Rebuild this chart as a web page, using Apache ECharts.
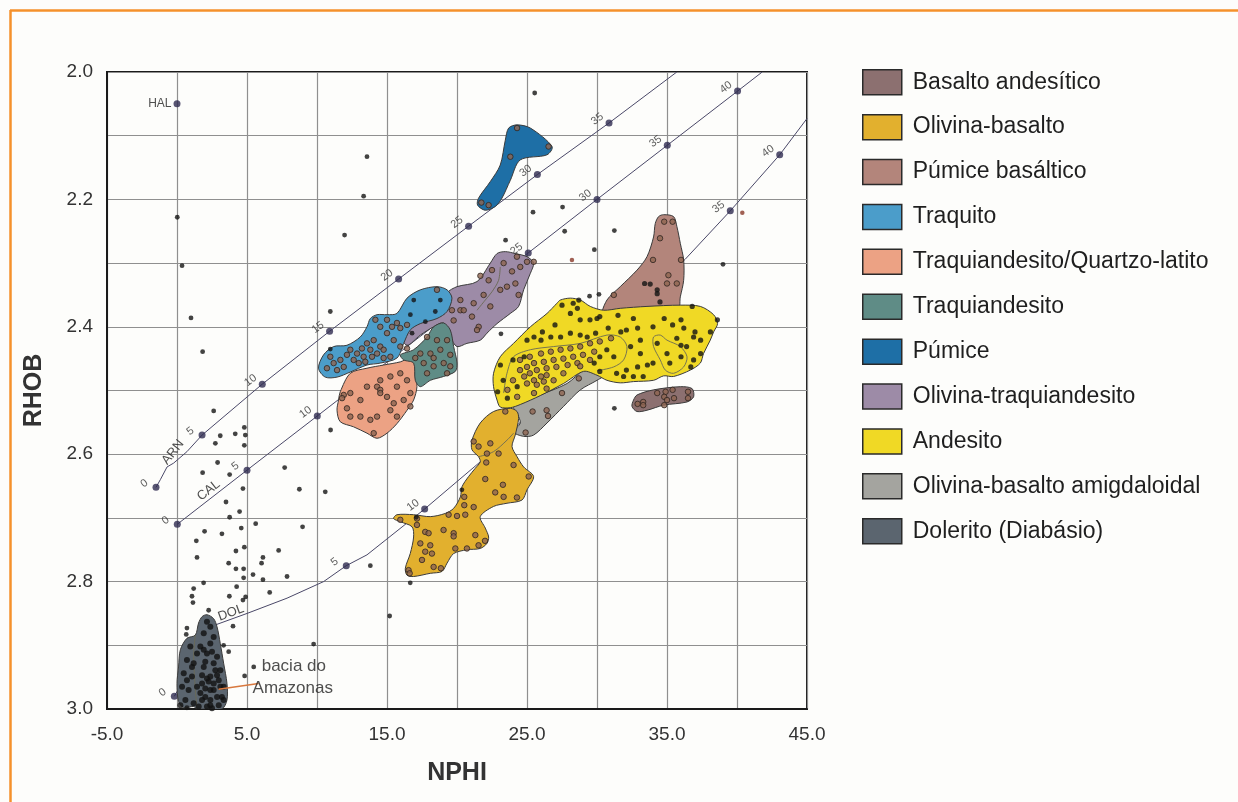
<!DOCTYPE html>
<html><head><meta charset="utf-8">
<script src="https://cdn.jsdelivr.net/npm/echarts@6/dist/echarts.min.js"></script>
<style>html,body{margin:0;padding:0;background:#fdfdfb}#c{width:1238px;height:802px}</style>
</head><body><div id="c"></div>
<script>
// ---------------- DATA (NPHI, RHOB) ----------------
const xLabelValues = [-5, 5, 15, 25, 35, 45];
const yLabelValues = [2.0, 2.2, 2.4, 2.6, 2.8, 3.0];

const legendNames = ['Basalto andesítico','Olivina-basalto','Púmice basáltico','Traquito',
  'Traquiandesito/Quartzo-latito','Traquiandesito','Púmice','Olivina-traquiandesito',
  'Andesito','Olivina-basalto amigdaloidal','Dolerito (Diabásio)'];

const basaltoAndesitico = [[32.61,2.515],[32.86,2.507],[34.04,2.499],[35.95,2.494],[36.79,2.497],[36.9,2.510],[36.43,2.518],[34.76,2.523],[33.57,2.531],[32.86,2.533],[32.5,2.525]];
const olivinaBasalto = [[21.07,2.578],[21.07,2.593],[21.54,2.604],[21.66,2.612],[21.31,2.622],[20.83,2.635],[20.36,2.651],[20.24,2.667],[19.76,2.685],[19.16,2.693],[18.09,2.698],[16.9,2.695],[15.71,2.695],[15.47,2.701],[15.95,2.706],[16.79,2.714],[16.9,2.730],[16.66,2.756],[16.31,2.779],[16.43,2.790],[16.9,2.792],[18.09,2.787],[18.93,2.784],[19.29,2.771],[19.76,2.756],[20.71,2.750],[21.66,2.748],[22.14,2.740],[22.26,2.730],[22.02,2.716],[21.66,2.698],[22.61,2.682],[23.57,2.677],[24.64,2.672],[25.0,2.656],[25.47,2.635],[24.76,2.620],[24.29,2.604],[23.93,2.588],[24.16,2.570],[24.4,2.544],[24.29,2.533],[23.81,2.528],[22.61,2.533],[21.66,2.551]];
const pumiceBasaltico = [[34.76,2.224],[35.47,2.227],[35.71,2.243],[35.95,2.269],[36.19,2.295],[36.19,2.327],[35.95,2.353],[35.71,2.378],[30.47,2.380],[30.71,2.358],[31.66,2.337],[32.86,2.311],[33.57,2.290],[34.04,2.259],[34.16,2.238],[34.4,2.227]];
const traquito = [[10.11,2.465],[10.59,2.479],[11.43,2.479],[12.38,2.471],[13.57,2.460],[14.52,2.457],[15.71,2.449],[16.19,2.426],[16.66,2.405],[17.38,2.395],[18.57,2.387],[19.29,2.376],[19.64,2.355],[19.29,2.342],[18.57,2.337],[17.38,2.342],[16.43,2.355],[15.71,2.379],[15.0,2.381],[14.29,2.381],[13.81,2.387],[13.57,2.400],[13.09,2.416],[12.14,2.429],[11.19,2.431],[10.47,2.444]];
const traquiQuartzo = [[11.66,2.502],[12.38,2.473],[13.57,2.465],[14.76,2.460],[15.96,2.455],[16.66,2.449],[17.02,2.457],[17.02,2.473],[17.14,2.494],[16.9,2.515],[16.43,2.531],[15.71,2.552],[15.0,2.567],[14.29,2.575],[13.57,2.567],[12.61,2.557],[11.66,2.549],[11.43,2.531],[11.54,2.515]];
const traquiandesito = [[15.96,2.444],[16.9,2.436],[17.86,2.416],[18.33,2.400],[19.04,2.394],[19.52,2.405],[19.76,2.431],[20.0,2.457],[19.88,2.470],[19.04,2.478],[18.1,2.484],[17.38,2.494],[17.02,2.484],[16.9,2.457],[16.19,2.452]];
const pumice = [[24.29,2.083],[25.24,2.088],[26.79,2.117],[26.43,2.130],[24.52,2.138],[23.81,2.170],[23.21,2.198],[22.74,2.211],[22.02,2.217],[21.47,2.209],[21.54,2.198],[22.38,2.172],[23.09,2.146],[23.45,2.107],[23.69,2.088]];
const olivinaTraqui = [[15.96,2.410],[17.86,2.389],[18.81,2.376],[19.29,2.347],[20.0,2.337],[21.43,2.329],[22.38,2.300],[22.86,2.285],[23.45,2.282],[24.16,2.285],[25.0,2.290],[25.47,2.300],[25.24,2.316],[24.76,2.342],[24.4,2.368],[23.81,2.379],[22.86,2.395],[22.14,2.410],[21.66,2.421],[20.71,2.426],[20.0,2.431],[19.52,2.416],[19.04,2.394],[18.33,2.400],[17.38,2.413],[16.43,2.429]];
const andesito = [[27.38,2.358],[28.09,2.355],[28.81,2.358],[29.52,2.368],[30.47,2.374],[31.66,2.371],[33.57,2.368],[35.95,2.366],[37.38,2.368],[38.33,2.381],[38.61,2.395],[38.33,2.408],[38.09,2.421],[37.61,2.442],[37.38,2.457],[36.66,2.468],[35.47,2.478],[34.76,2.477],[34.04,2.484],[32.61,2.486],[31.66,2.488],[30.71,2.484],[30.0,2.476],[29.04,2.470],[27.61,2.489],[25.95,2.508],[24.52,2.522],[23.81,2.527],[23.09,2.526],[22.86,2.515],[22.61,2.494],[22.61,2.473],[23.09,2.447],[24.04,2.426],[25.24,2.400],[26.43,2.379],[27.14,2.363]];
const amigdaloidal = [[24.04,2.525],[25.95,2.507],[27.86,2.489],[29.04,2.468],[29.76,2.465],[30.71,2.473],[30.0,2.484],[28.81,2.499],[27.61,2.525],[26.43,2.551],[25.47,2.570],[24.76,2.572],[24.04,2.565],[24.52,2.551],[24.29,2.536]];
const dolerito = [[0.11,2.934],[0.24,2.907],[0.71,2.889],[1.31,2.884],[1.54,2.865],[1.79,2.855],[2.14,2.852],[2.61,2.858],[2.86,2.871],[3.09,2.897],[3.33,2.928],[3.57,2.960],[3.57,2.986],[3.21,3.0],[2.14,3.0],[1.43,3.0],[1.19,2.996],[0.47,2.998],[0.11,2.988],[0.0,2.960]];

// inner boundary lines
const andesitoInnerA = [[23.33,2.504],[23.57,2.473],[24.04,2.447],[25.24,2.436],[26.9,2.431],[28.81,2.426],[30.71,2.413],[31.66,2.416],[32.14,2.431],[31.9,2.452],[31.19,2.463],[30.0,2.469]];
const andesitoInnerB = [[34.04,2.416],[34.52,2.413],[35.0,2.421],[35.95,2.431],[36.43,2.447],[36.19,2.463],[35.47,2.473],[34.88,2.468],[34.52,2.452],[34.04,2.431]];
const olivinaBasaltoInner = [[21.54,2.604],[22.61,2.596],[23.57,2.578],[24.04,2.567]];
const doleritoInner = [[1.31,2.884],[1.19,2.915],[1.31,2.970],[1.43,2.998]];
const olivinaTraquiInner = [[23.09,2.306],[22.97,2.327],[22.5,2.345],[22.02,2.358],[21.43,2.374]];

// lithology reference lines
const lineARN = [[-1.5,2.652],[-1.19,2.640],[-0.71,2.620],[-0.24,2.614],[0.71,2.596],[1.79,2.570],[6.09,2.490],[10.9,2.407],[15.83,2.325],[20.83,2.242],[25.74,2.161],[30.86,2.080],[35.7,2.0]];
const lineCAL = [[0.02,2.71],[5.0,2.625],[10.02,2.54],[25.09,2.284],[30.0,2.2],[35.02,2.115],[40.04,2.03],[41.8,2.0]];
const lineDOL = [[-0.19,2.98],[2.74,2.868],[5.0,2.85],[7.86,2.826],[10.47,2.80],[12.09,2.775],[13.57,2.758],[17.69,2.686],[21.66,2.612],[36.3,2.294],[39.52,2.218],[43.05,2.13],[45,2.073]];
const ticksARN = [[-1.5,2.652,'0'],[1.79,2.570,'5'],[6.09,2.490,'10'],[10.9,2.407,'15'],[15.83,2.325,'20'],[20.83,2.242,'25'],[25.74,2.161,'30'],[30.86,2.080,'35']];
const ticksCAL = [[0.02,2.71,'0'],[5.0,2.625,'5'],[10.02,2.54,'10'],[25.09,2.284,'25'],[30.0,2.2,'30'],[35.02,2.115,'35'],[40.04,2.03,'40']];
const ticksDOL = [[-0.19,2.98,'0'],[12.09,2.775,'5'],[17.69,2.686,'10'],[39.52,2.218,'35'],[43.05,2.13,'40']];
const pointHAL = [[0,2.05,'HAL']];

// scattered black samples
const scatteredDots = [[13.57,2.133],[13.33,2.195],[11.97,2.256],[0.02,2.228],[0.36,2.304],
[1.0,2.386],[1.83,2.439],[10.95,2.376],[10.95,2.435],[2.62,2.532],[3.09,2.571],[2.74,2.583],[4.16,2.568],[4.81,2.558],[4.88,2.570],[4.81,2.586],[2.9,2.613],[1.83,2.629],[3.76,2.632],[4.71,2.654],[7.69,2.621],[8.74,2.655],[10.59,2.659],[10.97,2.562],[3.5,2.675],[4.47,2.690],[3.76,2.699],[5.62,2.709],[1.97,2.721],[3.21,2.725],[4.59,2.716],[8.97,2.714],[1.38,2.736],[4.81,2.746],[4.21,2.752],[1.43,2.762],[7.26,2.751],[6.14,2.762],[3.69,2.771],[6.04,2.771],[4.21,2.780],[4.76,2.780],[5.43,2.789],[4.76,2.794],[6.14,2.797],[7.86,2.792],[1.9,2.802],[1.19,2.811],[4.26,2.808],[1.07,2.823],[3.74,2.823],[4.9,2.824],[6.62,2.817],[13.81,2.775],[16.66,2.802],
[1.14,2.833],[4.71,2.829],[2.26,2.845],[0.71,2.873],[4.0,2.870],[0.66,2.883],[3.33,2.900],[3.69,2.910],[9.76,2.898],[15.19,2.854],[4.83,2.948],[5.48,2.934],[0.71,2.998],
[25.55,2.033],[25.43,2.220],[27.54,2.212],[27.69,2.250],[31.24,2.249],[29.81,2.279],[23.47,2.264],[29.47,2.352],[30.14,2.349],[23.14,2.411],[39.0,2.302],[31.24,2.528],[17.09,2.699],
[16.91,2.358],[18.45,2.376],[18.81,2.358],[16.67,2.381],[17.74,2.392],[16.79,2.410],[20.35,2.656]];
const brownOutliers = [[28.21,2.295],[40.38,2.221]];

const andesitoBlackDots = [[27.5,2.366],[28.3,2.363],[28.6,2.371],[28.7,2.358],[29.5,2.389],[30.0,2.387],[30.2,2.384],[31.5,2.382],[32.6,2.387],[34.8,2.387],[36.0,2.389],[36.8,2.368],[38.6,2.389],[27.0,2.397],[26.1,2.408],[25.5,2.416],[25.0,2.421],[26.0,2.421],[26.7,2.416],[27.4,2.416],[28.1,2.410],[28.8,2.413],[29.3,2.416],[29.9,2.410],[30.8,2.402],[31.7,2.408],[32.1,2.405],[32.9,2.402],[34.0,2.400],[35.4,2.397],[36.2,2.402],[37.0,2.408],[35.7,2.418],[36.0,2.429],[36.4,2.431],[36.9,2.416],[37.4,2.421],[38.1,2.408],[33.1,2.421],[32.4,2.431],[33.1,2.442],[33.6,2.460],[34.0,2.457],[34.3,2.426],[35.0,2.442],[35.2,2.457],[36.0,2.447],[36.9,2.452],[37.4,2.442],[36.7,2.463],[32.9,2.463],[32.1,2.468],[31.4,2.473],[31.9,2.478],[32.6,2.478],[33.3,2.478],[31.2,2.447],[30.7,2.436],[30.2,2.447],[29.8,2.457],[30.2,2.470],[24.8,2.447],[24.0,2.452],[23.1,2.460],[23.3,2.484],[22.9,2.502],[23.6,2.512],[24.3,2.494],[28.8,2.389],[28.1,2.379],
[33.4,2.332],[33.8,2.333],[34.3,2.342],[34.3,2.348],[34.5,2.361]];

const doleritoDots = [[2.14,2.863],[2.38,2.871],[1.91,2.881],[2.62,2.887],[2.38,2.897],[1.67,2.902],[0.95,2.902],[1.43,2.913],[2.14,2.913],[2.86,2.918],[0.71,2.923],[1.19,2.928],[1.91,2.934],[2.62,2.928],[3.1,2.939],[0.48,2.944],[1.07,2.949],[1.79,2.947],[2.38,2.949],[2.98,2.955],[3.33,2.965],[0.36,2.965],[0.83,2.970],[1.43,2.965],[2.02,2.968],[2.62,2.970],[3.21,2.981],[0.6,2.986],[1.19,2.991],[1.79,2.986],[2.38,2.986],[2.98,2.994],[0.24,2.994],[2.14,2.996],[2.74,2.939],[1.67,2.975],[1.07,2.934],[2.26,2.957],[1.91,2.907],[2.5,2.910],[3.33,2.986],[0.71,2.955],[1.55,2.996],[2.5,2.999],
[2.02,2.926],[2.86,2.947],[2.38,2.970],[2.86,2.981],[2.02,2.981],[2.38,2.994],[2.62,2.960],[2.14,2.952],[3.1,2.965],[1.79,2.960]];

const polygonDots = [
// Traquito
[10.71,2.465],[11.19,2.457],[10.95,2.447],[11.67,2.452],[12.14,2.444],[12.38,2.436],[12.86,2.442],[12.62,2.452],[13.21,2.434],[13.57,2.426],[13.81,2.436],[13.33,2.447],[14.05,2.421],[14.52,2.431],[13.93,2.447],[14.29,2.442],[14.76,2.436],[15.0,2.410],[15.36,2.400],[15.71,2.394],[15.95,2.402],[16.43,2.397],[14.52,2.400],[14.17,2.389],[15.0,2.389],[15.48,2.421],[15.95,2.431],[16.43,2.434],[15.24,2.447],[11.43,2.468],[11.91,2.463],[14.76,2.449],[13.45,2.455],[12.98,2.457],[18.57,2.342],
// Olivina-traquiandesito
[24.28,2.290],[25.0,2.298],[25.48,2.298],[24.52,2.306],[23.33,2.300],[22.5,2.311],[21.67,2.320],[22.26,2.327],[23.09,2.342],[23.93,2.313],[23.57,2.337],[24.17,2.332],[24.4,2.350],[21.9,2.350],[21.19,2.363],[20.24,2.374],[20.48,2.374],[22.38,2.368],[21.07,2.384],[21.55,2.400],[21.43,2.405],[19.76,2.390],[19.64,2.374],[20.24,2.358],
// Traquiandesito
[17.86,2.416],[18.57,2.421],[19.29,2.421],[17.38,2.442],[18.1,2.442],[18.81,2.436],[19.52,2.444],[17.62,2.457],[18.33,2.462],[19.05,2.457],[19.52,2.462],[19.29,2.473],[17.86,2.473],[17.02,2.449],[18.33,2.449],
// Traquiandesito/Quartzo-latito
[11.91,2.507],[12.38,2.504],[11.79,2.512],[13.1,2.515],[13.57,2.494],[14.29,2.494],[14.52,2.484],[15.24,2.478],[15.71,2.494],[15.95,2.473],[16.43,2.484],[16.67,2.504],[16.19,2.515],[15.48,2.520],[15.24,2.531],[14.52,2.499],[14.52,2.504],[14.29,2.541],[13.81,2.546],[13.1,2.541],[12.38,2.541],[12.14,2.528],[15.0,2.510],[16.67,2.525],[15.71,2.541],[14.05,2.567],
// Andesito (inner zone)
[24.5,2.452],[25.2,2.447],[26.0,2.442],[26.7,2.439],[27.4,2.436],[28.1,2.434],[28.8,2.431],[29.5,2.426],[30.2,2.423],[31.0,2.418],[24.5,2.468],[25.0,2.463],[25.5,2.457],[26.2,2.455],[26.9,2.452],[27.6,2.450],[28.3,2.447],[29.0,2.444],[29.8,2.439],[24.8,2.478],[25.2,2.473],[25.7,2.468],[26.4,2.465],[27.1,2.463],[27.9,2.460],[28.6,2.457],[25.0,2.489],[25.5,2.484],[26.0,2.478],[26.4,2.476],[25.7,2.491],[26.2,2.486],[26.9,2.484],[27.6,2.473],[24.0,2.484],[23.6,2.499],[26.4,2.497],[25.5,2.504],[24.3,2.510],[28.8,2.462],[29.5,2.452],
// Púmice basáltico
[34.8,2.235],[35.4,2.235],[34.5,2.261],[34.0,2.295],[36.0,2.295],[35.1,2.319],[35.7,2.332],[35.0,2.332],[31.2,2.350],
// Basalto andesítico
[34.3,2.504],[34.9,2.502],[35.4,2.499],[34.8,2.510],[35.0,2.515],[36.5,2.502],[36.5,2.512],[33.3,2.518],[32.9,2.521],[33.3,2.523],[34.8,2.523],[35.5,2.512],
// Olivina-basalto amigdaloidal
[28.7,2.481],[27.5,2.504],[26.5,2.540],[25.4,2.533],[24.9,2.566],[26.4,2.531],
// Olivina-basalto
[23.45,2.533],[21.19,2.580],[21.54,2.588],[22.38,2.583],[22.14,2.599],[22.97,2.599],[22.09,2.613],[24.04,2.617],[25.12,2.635],[22.02,2.639],[23.28,2.648],[22.73,2.660],[23.33,2.667],[24.28,2.668],[20.52,2.667],[20.52,2.680],[21.19,2.683],[19.4,2.695],[20.0,2.697],[20.59,2.695],[15.95,2.703],[17.14,2.701],[17.14,2.711],[17.73,2.722],[17.97,2.724],[19.04,2.719],[19.76,2.724],[21.31,2.727],[22.0,2.736],[21.54,2.743],[20.71,2.748],[19.88,2.748],[17.38,2.740],[18.09,2.743],[18.21,2.756],[17.73,2.753],[17.5,2.766],[18.33,2.777],[18.85,2.779],[16.54,2.782],[16.62,2.787],[19.76,2.729],
// Púmice
[24.29,2.088],[26.54,2.117],[23.81,2.133],[21.74,2.205],[22.26,2.209]
];

// ---------------- STYLE ----------------
const FONT = '"Liberation Sans", Arial, Helvetica, sans-serif';
const colors = {
  'Basalto andesítico':'#8c7070','Olivina-basalto':'#e2b02e','Púmice basáltico':'#b3857b','Traquito':'#4b9dca',
  'Traquiandesito/Quartzo-latito':'#eca284','Traquiandesito':'#5f8c86','Púmice':'#1e6fa6','Olivina-traquiandesito':'#9d8ba7',
  'Andesito':'#f0d925','Olivina-basalto amigdaloidal':'#a4a49f','Dolerito (Diabásio)':'#5b656f'
};
// draw order (bottom to top)
const polyOrder = [
  ['Olivina-traquiandesito', olivinaTraqui],['Traquito', traquito],['Traquiandesito/Quartzo-latito', traquiQuartzo],
  ['Traquiandesito', traquiandesito],['Púmice', pumice],['Púmice basáltico', pumiceBasaltico],
  ['Olivina-basalto amigdaloidal', amigdaloidal],['Andesito', andesito],['Olivina-basalto', olivinaBasalto],
  ['Basalto andesítico', basaltoAndesitico],['Dolerito (Diabásio)', dolerito]
];

function polySeries(name, pts) {
  return {
    type:'custom', name, coordinateSystem:'cartesian2d', z:3, silent:true, clip:true,
    itemStyle:{color:colors[name]},
    data:[pts[0]],
    renderItem:(params, api) => ({
      type:'polygon',
      shape:{points: pts.map(p => api.coord(p)), smooth:0.3},
      style:{fill:colors[name], stroke:'#3b3b3b', lineWidth:1}
    })
  };
}
function innerSeries(pts, closed) {
  return {
    type:'custom', coordinateSystem:'cartesian2d', z:3, silent:true, clip:true,
    data:[pts[0]],
    renderItem:(params, api) => ({
      type: closed ? 'polygon' : 'polyline',
      shape:{points: pts.map(p => api.coord(p)), smooth:0.3},
      style:{fill:null, stroke:'#6a6a55', lineWidth:0.9}
    })
  };
}
function lithLine(data) {
  return {type:'line', data, showSymbol:false, z:2, silent:true, smooth:false,
    lineStyle:{color:'#4a4868', width:1}};
}
function tickSeries(data) {
  return {type:'scatter', data, z:2, silent:true, symbolSize:7,
    itemStyle:{color:'#2e2b50'},
    label:{show:true, formatter:p => p.value[2], position:'inside', offset:[-7,-10], rotate:37,
      fontSize:11, color:'#333', fontFamily:FONT}};
}
function textSeries(items) {
  return {type:'scatter', z:6, silent:true, symbolSize:0,
    data: items.map(it => ({value:[it[0], it[1]], label:{show:true, formatter:it[2], position:'inside',
      rotate:it[3]||0, align:it[4]||'center', fontSize:it[5]||12, color:'#222', fontFamily:FONT}}))};
}

const series = [];
series.push(lithLine(lineARN), lithLine(lineCAL), lithLine(lineDOL));
series.push(tickSeries(ticksARN), tickSeries(ticksCAL), tickSeries(ticksDOL));
polyOrder.forEach(([n, p]) => series.push(polySeries(n, p)));
series.push(innerSeries(andesitoInnerA,false), innerSeries(andesitoInnerB,true), innerSeries(olivinaBasaltoInner,false),
  innerSeries(doleritoInner,false), innerSeries(olivinaTraquiInner,false));
series.push({type:'scatter', data:polygonDots, z:4, silent:true, symbolSize:5.5,
  itemStyle:{color:'#8e6551', borderColor:'#2f2620', borderWidth:1}});
series.push({type:'scatter', data:brownOutliers, z:4, silent:true, symbolSize:4.5,
  itemStyle:{color:'#8a3a2a'}});
series.push({type:'scatter', data:scatteredDots, z:4, silent:true, symbolSize:4.8, itemStyle:{color:'#141414'}});
series.push({type:'scatter', data:andesitoBlackDots, z:4, silent:true, symbolSize:5.2, itemStyle:{color:'#141414'}});
series.push({type:'scatter', data:doleritoDots, z:4, silent:true, symbolSize:6, itemStyle:{color:'#111'}});
series.push({type:'scatter', data:pointHAL, z:4, silent:true, symbolSize:7, itemStyle:{color:'#2e2b50'},
  label:{show:true, formatter:'HAL', position:'left', distance:2, fontSize:12, color:'#222', fontFamily:FONT}});
// leader line for "bacia do Amazonas"
series.push({type:'line', data:[[2.97,2.969],[5.83,2.960]], showSymbol:false, z:5, silent:true,
  lineStyle:{color:'#d8783e', width:1.5}});
series.push(textSeries([
  [-0.29,2.597,'ARN',52,'center',13],
  [2.26,2.657,'CAL',38,'center',13],
  [3.86,2.849,'DOL',20,'center',13],
  [6.05,2.933,'bacia do',0,'left',17],
  [5.4,2.968,'Amazonas',0,'left',17]
]));

const chart = echarts.init(document.getElementById('c'), null, {renderer:'canvas'});
chart.setOption({
  animation:false,
  backgroundColor:'#fdfdfb',
  grid:{left:107, top:72, width:700, height:637, show:true, borderColor:'#1a1a1a', borderWidth:2},
  xAxis:{type:'value', min:-5, max:45, interval:5,
    axisLine:{show:true, onZero:false, lineStyle:{color:'#1a1a1a', width:2}},
    axisTick:{show:false},
    splitLine:{show:true, lineStyle:{color:'#8f8f8f', width:1.2}},
    axisLabel:{formatter:v => xLabelValues.includes(Math.round(v)) ? v.toFixed(1) : '', fontSize:19, color:'#333', margin:16, fontFamily:FONT},
    name:'NPHI', nameLocation:'middle', nameGap:52,
    nameTextStyle:{fontSize:25, fontWeight:'bold', color:'#333', fontFamily:FONT}},
  yAxis:{type:'value', inverse:true, min:2.0, max:3.0, interval:0.1,
    axisLine:{show:true, onZero:false, lineStyle:{color:'#1a1a1a', width:2}},
    axisTick:{show:false},
    splitLine:{show:true, lineStyle:{color:'#8f8f8f', width:1.2}},
    axisLabel:{formatter:v => yLabelValues.some(t => Math.abs(t - v) < 1e-6) ? v.toFixed(1) : '', fontSize:19, color:'#333', margin:14, fontFamily:FONT},
    name:'RHOB', nameLocation:'middle', nameGap:60, nameRotate:90,
    nameTextStyle:{fontSize:25, fontWeight:'bold', color:'#333', fontFamily:FONT}},
  legend:{orient:'vertical', left:862, top:69, itemWidth:39, itemHeight:25, itemGap:18.4, selectedMode:false,
    icon:'rect', padding:0,
    textStyle:{fontSize:23, color:'#1f1f1f', fontFamily:FONT, padding:[0,0,0,6]},
    data: legendNames.map(n => ({name:n, icon:'rect', itemStyle:{color:colors[n], borderColor:'#2a2a2a', borderWidth:1.5}}))},
  graphic:[
    {type:'line', shape:{x1:10, y1:10.5, x2:1238, y2:10.5}, style:{stroke:'#f5912b', lineWidth:2.5}, silent:true},
    {type:'line', shape:{x1:10.5, y1:10, x2:10.5, y2:802}, style:{stroke:'#f5912b', lineWidth:2.5}, silent:true}
  ],
  series
});
</script>
</body></html>
